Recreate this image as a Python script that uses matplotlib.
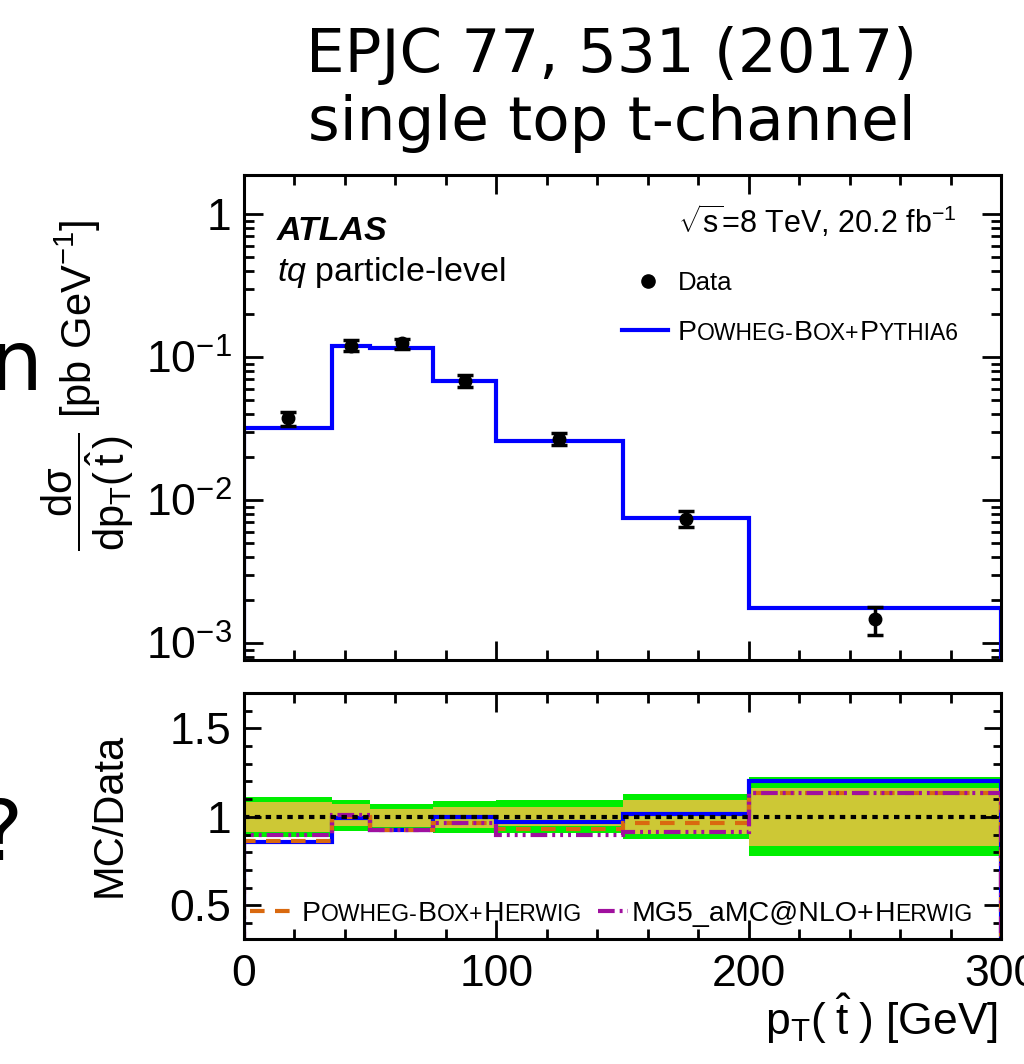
import numpy as np
import matplotlib
matplotlib.use("Agg")
import matplotlib.pyplot as plt
from matplotlib.offsetbox import TextArea, HPacker, AnnotationBbox
from matplotlib.ticker import FixedLocator, MultipleLocator, FuncFormatter, LogLocator, NullFormatter
from matplotlib.lines import Line2D

# ---------------- data ----------------
bin_edges = [0, 35, 50, 75, 100, 150, 200, 300]
data_xsec = [0.0372, 0.120, 0.125, 0.068, 0.0268, 0.0074, 0.00146]
powheg_pythia6 = [0.032, 0.119, 0.116, 0.068, 0.026, 0.0075, 0.00176]
powheg_herwig_ratio = [0.865, 1.00, 0.925, 0.968, 0.932, 0.966, 1.135]
mg5_herwig_ratio = [0.900, 1.01, 0.925, 0.968, 0.898, 0.915, 1.135]
total_unc_up = [0.113, 0.096, 0.073, 0.092, 0.096, 0.130, 0.226]
total_unc_down = [0.113, 0.080, 0.085, 0.090, 0.090, 0.124, 0.220]
stat_unc_up = [0.085, 0.073, 0.045, 0.058, 0.058, 0.096, 0.164]
stat_unc_down = [0.085, 0.050, 0.055, 0.063, 0.050, 0.096, 0.164]

W, H = 1024, 1064
plt.rcParams['font.family'] = ['Liberation Sans', 'DejaVu Sans']
plt.rcParams['mathtext.fontset'] = 'custom'
plt.rcParams['mathtext.rm'] = 'Liberation Sans'
plt.rcParams['mathtext.it'] = 'Liberation Sans:italic'
plt.rcParams['mathtext.bf'] = 'Liberation Sans:bold'

fig = plt.figure(figsize=(W / 100, H / 100), dpi=100)

def fx(x):
    return x / W

def fy(y):
    return 1 - y / H

edges = np.array(bin_edges, float)
centers = 0.5 * (edges[:-1] + edges[1:])
data = np.array(data_xsec)
pred = np.array(powheg_pythia6)
tu = np.array(total_unc_up); td = np.array(total_unc_down)
su = np.array(stat_unc_up); sd = np.array(stat_unc_down)

ax1 = fig.add_axes([fx(244), fy(660), fx(1001 - 244), (660 - 175) / H])
ax2 = fig.add_axes([fx(244), fy(939), fx(1001 - 244), (939 - 693) / H])

blue = '#0000ff'
orange = '#d9690f'
magenta = '#a0109e'
mg_ls = (0, (4, 1.2, 0.7, 1.2, 0.7, 1.2, 0.7, 1.2))
pw_ls = (0, (3.5, 2.5))

# ---------------- upper panel ----------------
ax1.set_yscale('log')
ax1.stairs(pred, edges, baseline=1e-6, color=blue, lw=3.0, zorder=3)
ax1.errorbar(centers, data, yerr=[data * td, data * tu], fmt='o', color='black',
             ms=9, capsize=5.5, capthick=2.5, elinewidth=2.5, zorder=4)
ax1.set_xlim(0, 300)
ax1.set_ylim(7.6e-4, 1.875)

def logfmt(v, pos):
    e = int(round(np.log10(v)))
    if e == 0:
        return '1'
    return r'$10^{%d}$' % e

ax1.yaxis.set_major_locator(LogLocator(base=10, numticks=10))
ax1.yaxis.set_minor_locator(LogLocator(base=10, subs=np.arange(2, 10), numticks=20))
ax1.yaxis.set_major_formatter(FuncFormatter(logfmt))
ax1.yaxis.set_minor_formatter(NullFormatter())
ax1.xaxis.set_major_locator(MultipleLocator(100))
ax1.xaxis.set_minor_locator(MultipleLocator(20))
ax1.set_xticklabels([])

# ---------------- lower panel ----------------
ax2.stairs(1 + tu, edges, baseline=1 - td, fill=True, color='#00ee00', lw=0, zorder=1)
ax2.stairs(1 + su, edges, baseline=1 - sd, fill=True, color='#cdc835', lw=0, zorder=1.5)
ax2.axhline(1.0, color='black', lw=3.0, ls=(0, (1.3, 1.3)), zorder=5)
ax2.stairs(pred / data, edges, baseline=0, color=blue, lw=3.0, zorder=3)
ax2.stairs(powheg_herwig_ratio, edges, baseline=0, color=orange, lw=3.0,
           ls=pw_ls, zorder=3.2)
ax2.stairs(mg5_herwig_ratio, edges, baseline=0, color=magenta, lw=3.0,
           ls=mg_ls, zorder=3.4)
ax2.set_xlim(0, 300)
ax2.set_ylim(0.31, 1.70)
ax2.yaxis.set_major_locator(FixedLocator([0.5, 1.0, 1.5]))
ax2.yaxis.set_major_formatter(FuncFormatter(lambda v, p: '%g' % v))
ax2.yaxis.set_minor_locator(MultipleLocator(0.1))
ax2.xaxis.set_major_locator(MultipleLocator(100))
ax2.xaxis.set_minor_locator(MultipleLocator(20))

for ax in (ax1, ax2):
    for s in ax.spines.values():
        s.set_linewidth(2.2)
        s.set_zorder(10)
    ax.tick_params(which='both', direction='in', top=True, right=True, width=2.0,
                   labelsize=32, pad=9)
    ax.tick_params(which='major', length=14)
    ax.tick_params(which='minor', length=7)
ax2.tick_params(axis='x', pad=11)
ax2.tick_params(axis='y', which='major', length=12)
ax2.tick_params(axis='y', which='minor', length=6)

# ---------------- texts ----------------
fig.text(fx(277), fy(240), 'ATLAS', fontsize=24.5, fontweight='bold', style='italic')
fig.text(fx(277), fy(281), r'$tq$ particle-level', fontsize=24.5)
fig.text(fx(957), fy(233), r'$\sqrt{\mathrm{s}}$=8 TeV, 20.2 fb$^{-1}$', fontsize=22,
         ha='right')

fig.add_artist(Line2D([fx(648)], [fy(281)], transform=fig.transFigure, marker='o',
                      ms=9.5, color='black', ls='none'))
fig.text(fx(678), fy(290), 'Data', fontsize=18.5)
fig.add_artist(Line2D([fx(622), fx(668)], [fy(330), fy(330)], transform=fig.transFigure,
                      color=blue, lw=3.0))

def smallcaps(parts, big, small):
    kids = []
    for txt, isbig in parts:
        kids.append(TextArea(txt, textprops=dict(size=big if isbig else small,
                                                  family=['Liberation Sans'])))
    return HPacker(children=kids, align='baseline', pad=0, sep=0)

def place(box, x, y):
    ab = AnnotationBbox(box, (x, H - y), xycoords='figure pixels', box_alignment=(0, 0),
                        frameon=False, pad=0)
    fig.add_artist(ab)

BIG, SMALL = 20.5, 16.5
place(smallcaps([('P', True), ('OWHEG-', False), ('B', True), ('OX+', False),
                 ('P', True), ('YTHIA6', False)], BIG, SMALL), 678, 346)

# lower legend
fig.add_artist(Line2D([fx(250), fx(294)], [fy(911), fy(911)], transform=fig.transFigure,
                      color=orange, lw=3.0, ls=pw_ls))
place(smallcaps([('P', True), ('OWHEG-', False), ('B', True), ('OX+', False),
                 ('H', True), ('ERWIG', False)], BIG, SMALL), 302, 927)
fig.add_artist(Line2D([fx(598), fx(628)], [fy(911), fy(911)], transform=fig.transFigure,
                      color=magenta, lw=3.0, ls=mg_ls))
place(smallcaps([('MG5_aMC@NLO+', True), ('H', True), ('ERWIG', False)], BIG, SMALL),
      632, 927)

# axis titles
fig.text(fx(88), fy(385),
         r'$\dfrac{\mathrm{d\sigma}}{\mathrm{dp}_{\mathrm{T}}(\,\hat{\mathrm{t}}\,)}$ [pb GeV$^{-1}$]',
         rotation=90, ha='center', va='center', fontsize=30)
fig.text(fx(110), fy(815), 'MC/Data', rotation=90, ha='center', va='center', fontsize=30)
fig.text(fx(998), fy(1035), r'p$_{\mathrm{T}}$($\;\hat{\mathrm{t}}\;$) [GeV]', ha='right',
         fontsize=32)

# slide title and cut-off slide text
fig.text(fx(612), fy(72), 'EPJC 77, 531 (2017)', ha='center', fontsize=44,
         family=['DejaVu Sans'])
fig.text(fx(612), fy(140), 'single top t-channel', ha='center', fontsize=44,
         family=['DejaVu Sans'])
fig.text(fx(42), fy(390), 'n', ha='right', fontsize=60, family=['DejaVu Sans'])
fig.text(fx(22), fy(860), '?', ha='right', fontsize=60, family=['DejaVu Sans'])

fig.savefig('out.png', dpi=100)
